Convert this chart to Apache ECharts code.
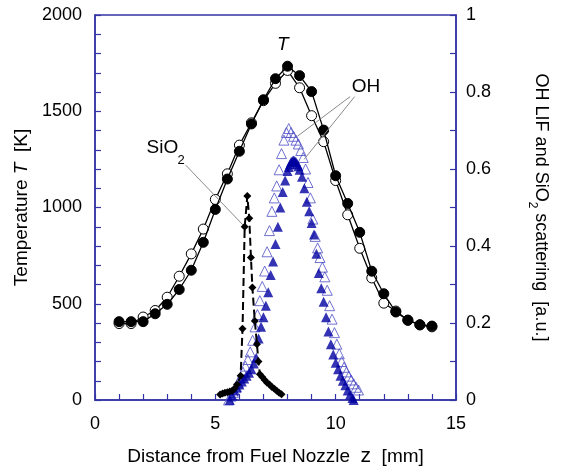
<!DOCTYPE html>
<html>
<head>
<meta charset="utf-8">
<script src="https://cdn.jsdelivr.net/npm/echarts@6/dist/echarts.min.js"></script>
<style>
  html, body { margin: 0; padding: 0; background: #fff; }
  #chart { width: 564px; height: 472px; }
</style>
</head>
<body>
<div id="chart"></div>
<script>
// 温度分布 (两组测量, 左轴 K)
const tempX = [1, 1.5, 2, 2.5, 3, 3.5, 4, 4.5, 5, 5.5, 6, 6.5, 7, 7.5, 8, 8.5, 9, 9.5, 10, 10.5, 11, 11.5, 12, 12.5, 13, 13.5, 14];
const tempFilled = [407, 407, 407, 448, 497, 574, 674, 819, 990, 1148, 1292, 1434, 1560, 1669, 1734, 1685, 1602, 1402, 1165, 1021, 871, 669, 552, 457, 414, 391, 384];
const tempOpen = [397, 397, 431, 465, 534, 643, 759, 888, 1042, 1175, 1324, 1440, 1555, 1645, 1712, 1622, 1477, 1342, 1140, 962, 788, 634, 503, 462, 415, 390, 380];

// OH LIF (空心三角, 右轴)
const ohOpenX = [5.55, 5.65, 5.75, 5.85, 5.95, 6.05, 6.15, 6.25, 6.35, 6.45, 6.55, 6.65, 6.75, 6.85, 6.95, 7.05, 7.15, 7.25, 7.35, 7.45, 7.55, 7.65, 7.75, 7.85, 7.95, 8.05,
  8.15, 8.25, 8.35, 8.45, 8.55, 8.65, 8.75, 8.85, 8.95, 9.05, 9.15, 9.25, 9.35, 9.45, 9.55, 9.65, 9.75, 9.85, 9.95, 10.05, 10.15, 10.25, 10.35, 10.45, 10.55, 10.65, 10.75, 10.85, 10.95];
const ohOpenY = [0.0, 0.01, 0.02, 0.032, 0.045, 0.058, 0.072, 0.088, 0.105, 0.125, 0.155, 0.19, 0.222, 0.258, 0.295, 0.335, 0.385, 0.44, 0.49, 0.525, 0.556, 0.598, 0.64, 0.675, 0.695, 0.705,
  0.695, 0.685, 0.675, 0.665, 0.648, 0.63, 0.6, 0.565, 0.525, 0.47, 0.425, 0.395, 0.37, 0.345, 0.32, 0.285, 0.245, 0.21, 0.175, 0.145, 0.12, 0.1, 0.085, 0.073, 0.062, 0.052, 0.042, 0.033, 0.026];

// OH LIF (实心三角, 右轴)
const ohFilledX = [5.6, 5.7, 5.8, 5.9, 6.0, 6.1, 6.2, 6.3, 6.4, 6.5, 6.6, 6.7, 6.8, 6.9, 7.0, 7.1, 7.2, 7.3, 7.4, 7.5, 7.6, 7.7, 7.8, 7.9, 8.0, 8.05, 8.1, 8.15, 8.2, 8.25, 8.3, 8.35, 8.4, 8.45, 8.5,
  8.6, 8.7, 8.8, 8.9, 9.0, 9.1, 9.2, 9.3, 9.4, 9.5, 9.6, 9.7, 9.8, 9.9, 10.0, 10.1, 10.2, 10.3, 10.4, 10.5, 10.6, 10.7, 10.75];
const ohFilledY = [0.0, 0.012, 0.025, 0.033, 0.04, 0.048, 0.056, 0.063, 0.071, 0.08, 0.095, 0.11, 0.16, 0.19, 0.215, 0.245, 0.28, 0.325, 0.36, 0.405, 0.45, 0.5, 0.54, 0.57, 0.595, 0.605, 0.612, 0.618, 0.621, 0.622, 0.621, 0.618, 0.613, 0.607, 0.598,
  0.58, 0.55, 0.515, 0.49, 0.46, 0.43, 0.38, 0.33, 0.29, 0.255, 0.215, 0.178, 0.145, 0.118, 0.097, 0.08, 0.063, 0.05, 0.038, 0.025, 0.014, 0.005, 0.0];

// SiO2 散射 (菱形 + 虚线, 右轴)
const sioX = [5.2, 5.3, 5.4, 5.5, 5.6, 5.7, 5.8, 5.9, 6.05, 6.13, 6.22, 6.33, 6.41, 6.48, 6.54, 6.64, 6.73, 6.79, 6.85, 6.95, 7.05, 7.15, 7.25, 7.35, 7.45, 7.55, 7.65, 7.75];
const sioY = [0.014, 0.017, 0.019, 0.02, 0.022, 0.024, 0.03, 0.04, 0.063, 0.185, 0.45, 0.53, 0.472, 0.37, 0.292, 0.205, 0.145, 0.1, 0.067, 0.06, 0.052, 0.045, 0.04, 0.034, 0.029, 0.024, 0.019, 0.015];

const AXIS = "#3434a4";
const FONT = "Liberation Sans, Arial, sans-serif";

function pairs(xs, ys) {
  return xs.map((x, i) => [x, ys[i]]);
}

function textPoint(coord, text, extra) {
  return {
    coord: coord,
    symbol: "circle",
    symbolSize: 1,
    itemStyle: { color: "rgba(0,0,0,0)" },
    label: Object.assign({
      show: true,
      position: "inside",
      formatter: text,
      color: "#000",
      fontSize: 18,
      fontFamily: FONT,
    }, extra || {}),
  };
}

const pointerStyle = { color: "#8a8a8a", width: 1, type: "solid" };
const tickStyle = { color: AXIS, width: 1.2 };

const option = {
  animation: false,
  backgroundColor: "#fff",
  grid: {
    left: 95,
    right: 84,
    top: 15,
    bottom: 70,
    show: true,
    borderColor: AXIS,
    borderWidth: 1.5,
  },
  xAxis: {
    type: "value",
    min: 0,
    max: 15,
    interval: 5,
    name: "Distance from Fuel Nozzle  {z|z}  [mm]",
    nameLocation: "middle",
    nameGap: 46,
    nameTextStyle: {
      color: "#000",
      fontSize: 19,
      fontFamily: FONT,
      rich: { z: { fontSize: 21, fontFamily: FONT, color: "#000" } },
    },
    axisLine: { lineStyle: { color: AXIS, width: 1.5 } },
    axisTick: { inside: true, length: 6, lineStyle: tickStyle },
    minorTick: { show: true, splitNumber: 5, length: 6, lineStyle: tickStyle },
    axisLabel: { color: "#000", fontSize: 18, fontFamily: FONT, margin: 15 },
    splitLine: { show: false },
  },
  yAxis: [
    {
      type: "value",
      min: 0,
      max: 2000,
      interval: 500,
      name: "Temperature {i|T}  [K]",
      nameLocation: "middle",
      nameRotate: 90,
      nameGap: 61,
      nameTextStyle: {
        color: "#000",
        fontSize: 19,
        fontFamily: FONT,
        rich: { i: { fontSize: 19, fontStyle: "italic", fontFamily: FONT, color: "#000" } },
      },
      axisLine: { show: true, lineStyle: { color: AXIS, width: 1.5 } },
      axisTick: { inside: true, length: 6, lineStyle: tickStyle },
      minorTick: { show: true, splitNumber: 5, length: 6, lineStyle: tickStyle },
      axisLabel: {
        color: "#000",
        fontSize: 18,
        fontFamily: FONT,
        margin: 13,
        formatter: (v) => String(v),
      },
      splitLine: { show: false },
    },
    {
      type: "value",
      position: "right",
      min: 0,
      max: 1,
      interval: 0.2,
      name: "OH LIF and SiO{s|2} scattering  [a.u.]",
      nameLocation: "middle",
      nameRotate: -90,
      nameGap: 70,
      nameTextStyle: {
        color: "#000",
        fontSize: 18,
        fontFamily: FONT,
        lineHeight: 30,
        rich: {
          s: { fontSize: 12, fontFamily: FONT, color: "#000", verticalAlign: "bottom", lineHeight: 14 },
        },
      },
      axisLine: { show: true, lineStyle: { color: AXIS, width: 1.5 } },
      axisTick: { inside: true, length: 6, lineStyle: tickStyle },
      minorTick: { show: true, splitNumber: 2, length: 6, lineStyle: tickStyle },
      axisLabel: { color: "#000", fontSize: 18, fontFamily: FONT, margin: 10 },
      splitLine: { show: false },
    },
  ],
  series: [
    {
      name: "T open",
      type: "line",
      data: pairs(tempX, tempOpen),
      symbol: "circle",
      symbolSize: 10,
      itemStyle: { color: "#fff", borderColor: "#000", borderWidth: 1 },
      lineStyle: { color: "#000", width: 1.3 },
      z: 2,
    },
    {
      name: "T filled",
      type: "line",
      data: pairs(tempX, tempFilled),
      symbol: "circle",
      symbolSize: 10,
      itemStyle: { color: "#000", borderColor: "#000" },
      lineStyle: { color: "#000", width: 1.3 },
      z: 3,
      markPoint: {
        silent: true,
        data: [textPoint([7.8, 1845], "T", { fontStyle: "italic", fontSize: 19 })],
      },
    },
    {
      name: "OH open",
      type: "scatter",
      yAxisIndex: 1,
      data: pairs(ohOpenX, ohOpenY),
      symbol: "triangle",
      symbolSize: 10,
      itemStyle: { color: "rgba(255,255,255,0)", borderColor: "#4d4dc6", borderWidth: 1 },
      z: 4,
    },
    {
      name: "OH filled",
      type: "scatter",
      yAxisIndex: 1,
      data: pairs(ohFilledX, ohFilledY),
      symbol: "triangle",
      symbolSize: 10,
      itemStyle: { color: "#0000a0" },
      z: 5,
      markLine: {
        silent: true,
        symbol: ["none", "none"],
        lineStyle: pointerStyle,
        label: { show: false },
        data: [
          [{ coord: [10.6, 0.788] }, { coord: [8.41, 0.685] }],
          [{ coord: [10.79, 0.788] }, { coord: [8.69, 0.625] }],
        ],
      },
      markPoint: {
        silent: true,
        data: [textPoint([11.26, 0.814], "OH", { fontSize: 19 })],
      },
    },
    {
      name: "SiO2",
      type: "line",
      yAxisIndex: 1,
      data: pairs(sioX, sioY),
      symbol: "diamond",
      symbolSize: 8,
      itemStyle: { color: "#000" },
      lineStyle: { color: "#000", width: 2, type: "dashed" },
      z: 6,
      markLine: {
        silent: true,
        symbol: ["none", "none"],
        lineStyle: pointerStyle,
        label: { show: false },
        data: [[{ coord: [3.77, 0.61] }, { coord: [6.22, 0.45] }]],
      },
      markPoint: {
        silent: true,
        data: [
          textPoint([2.8, 0.656], "SiO", { fontSize: 19 }),
          textPoint([3.58, 0.623], "2", { fontSize: 13 }),
        ],
      },
    },
  ],
};

const chartObj = echarts.init(document.getElementById("chart"));
chartObj.setOption(option);
</script>
</body>
</html>
